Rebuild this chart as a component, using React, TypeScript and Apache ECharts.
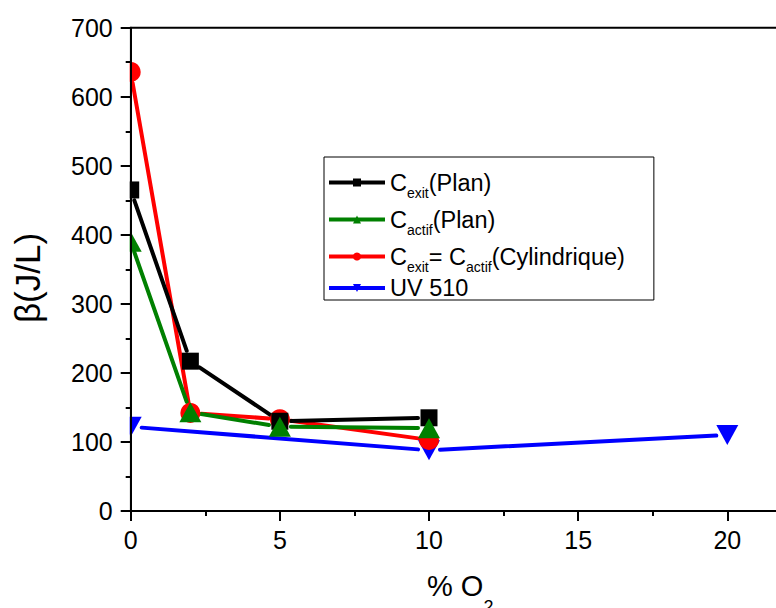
import React, { useEffect, useRef } from 'react';
import * as echarts from 'echarts';

// ---- data ----
const xPlan = [0, 2, 5, 10];
const cExitPlan = [465, 217, 130, 135];
const cActifPlan = [390, 143, 122, 120];
const cCylindrique = [636, 142, 133, 103];
const xUV = [0, 10, 20];
const uv510 = [122, 88, 110];

const seriesNames = ['Cexit(Plan)', 'Cactif(Plan)', 'Cexit= Cactif(Cylindrique)', 'UV 510'];
const legendRich: Record<string, string> = {
  'Cexit(Plan)': '{m|C}{s|exit}{m|(Plan)}',
  'Cactif(Plan)': '{m|C}{s|actif}{m|(Plan)}',
  'Cexit= Cactif(Cylindrique)': '{m|C}{s|exit}{m|= C}{s|actif}{m|(Cylindrique)}',
  'UV 510': '{m|UV 510}',
};

const FONT = "'Liberation Sans', Arial, sans-serif";

type Def = {
  name: string;
  xs: number[];
  ys: number[];
  color: string;
  symbol: string;
  size: number | number[];
  rotate: number;
};

const defs: Def[] = [
  { name: seriesNames[3], xs: xUV, ys: uv510, color: '#0000FF', symbol: 'triangle', size: [22, 20], rotate: 180 },
  { name: seriesNames[2], xs: xPlan, ys: cCylindrique, color: '#FF0000', symbol: 'circle', size: 20, rotate: 0 },
  { name: seriesNames[0], xs: xPlan, ys: cExitPlan, color: '#000000', symbol: 'rect', size: 17, rotate: 0 },
  { name: seriesNames[1], xs: xPlan, ys: cActifPlan, color: '#008000', symbol: 'triangle', size: [22, 20], rotate: 0 },
];

const GAP = 11;

export default function App() {
  const ref = useRef<HTMLDivElement>(null);
  useEffect(() => {
    if (!ref.current) return;
    const chart = echarts.init(ref.current, undefined, { renderer: 'svg' });

    const series: any[] = [];
    defs.forEach((d) => {
      const segs = d.xs.slice(0, -1).map((x, i) => [x, d.ys[i], d.xs[i + 1], d.ys[i + 1]]);
      series.push({
        type: 'custom',
        name: d.name + '-seg',
        data: segs,
        encode: { x: [0, 2], y: [1, 3] },
        z: 2,
        silent: true,
        renderItem: (params: any, api: any) => {
          const a = api.coord([api.value(0), api.value(1)]);
          const b = api.coord([api.value(2), api.value(3)]);
          const dx = b[0] - a[0];
          const dy = b[1] - a[1];
          const len = Math.hypot(dx, dy);
          if (len < 2 * GAP + 1) return null;
          const ux = dx / len;
          const uy = dy / len;
          return {
            type: 'line',
            shape: { x1: a[0] + ux * GAP, y1: a[1] + uy * GAP, x2: b[0] - ux * GAP, y2: b[1] - uy * GAP },
            style: { stroke: d.color, lineWidth: 4, lineCap: 'round' },
          };
        },
      });
    });
    defs.forEach((d) => {
      series.push({
        type: 'line',
        name: d.name,
        data: d.xs.map((x, i) => [x, d.ys[i]]),
        symbol: d.symbol,
        symbolSize: d.size,
        symbolRotate: d.rotate,
        showAllSymbol: true,
        itemStyle: { color: d.color },
        lineStyle: { width: 0, color: d.color },
        z: 3,
        clip: false,
      });
    });

    const axisCommon = {
      type: 'value',
      axisLine: { show: true, lineStyle: { color: '#000', width: 2 } },
      axisTick: { show: true, length: 10, lineStyle: { color: '#000', width: 2 } },
      minorTick: { show: true, splitNumber: 2, length: 5, lineStyle: { color: '#000', width: 2 } },
      splitLine: { show: false },
      minorSplitLine: { show: false },
      z: 10,
    };

    chart.setOption({
      animation: false,
      backgroundColor: '#fff',
      grid: {
        left: 130.7,
        top: 27.7,
        width: 745.75,
        height: 483.3,
        containLabel: false,
        outerBoundsMode: 'none',
        show: true,
        borderColor: '#000',
        borderWidth: 2,
        backgroundColor: 'transparent',
      },
      xAxis: {
        ...axisCommon,
        min: 0,
        max: 25,
        interval: 5,
        axisLabel: {
          color: '#000',
          fontSize: 25,
          fontFamily: FONT,
          margin: 16,
          showMaxLabel: false,
          formatter: (v: number) => (v > 20 ? '' : String(v)),
        },
      },
      yAxis: {
        ...axisCommon,
        min: 0,
        max: 700,
        interval: 100,
        axisLabel: { color: '#000', fontSize: 25, fontFamily: FONT, margin: 18 },
      },
      legend: {
        data: seriesNames,
        orient: 'vertical',
        left: 324,
        top: 157,
        padding: [8, 29, 0, 3],
        itemGap: 2,
        itemWidth: 56,
        itemHeight: 10,
        borderColor: '#000',
        borderWidth: 1,
        backgroundColor: '#fff',
        selectedMode: false,
        lineStyle: { width: 4, opacity: 1 },
        formatter: (name: string) => legendRich[name] || name,
        textStyle: {
          color: '#000',
          fontFamily: FONT,
          fontSize: 23.5,
          rich: {
            m: { fontSize: 23.5, lineHeight: 27, fontFamily: FONT, color: '#000' },
            s: { fontSize: 14, lineHeight: 14, padding: [21, 0, 0, 0], fontFamily: FONT, color: '#000' },
          },
        },
      },
      graphic: [
        {
          type: 'rect',
          z: 5,
          silent: true,
          shape: { x: 0, y: 0, width: 129.7, height: 608 },
          style: { fill: '#fff' },
        },
        {
          type: 'text',
          z: 11,
          x: 27,
          y: 278,
          rotation: Math.PI / 2,
          style: {
            text: 'β(J/L)',
            fontSize: 35,
            fontFamily: FONT,
            fill: '#000',
            align: 'center',
            verticalAlign: 'middle',
          },
        },
        {
          type: 'text',
          z: 11,
          x: 427,
          y: 586,
          style: {
            text: '{m|% O}{s|2}',
            fill: '#000',
            align: 'left',
            verticalAlign: 'middle',
            rich: {
              m: { fontSize: 29, lineHeight: 35, fontFamily: FONT, fill: '#000' },
              s: { fontSize: 18, lineHeight: 18, padding: [42, 0, 0, 0], fontFamily: FONT, fill: '#000' },
            },
          },
        },
      ],
      series,
    });
    return () => chart.dispose();
  }, []);
  return <div ref={ref} style={{ position: 'absolute', left: 0, top: 0, width: 776, height: 608 }} />;
}
